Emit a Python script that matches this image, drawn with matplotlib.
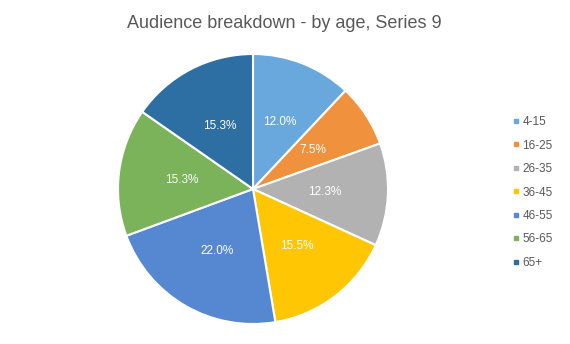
import matplotlib
matplotlib.use("Agg")
import matplotlib.pyplot as plt
from matplotlib.lines import Line2D

plt.rcParams['font.family'] = ['Liberation Sans', 'DejaVu Sans']

categories = ["4-15", "16-25", "26-35", "36-45", "46-55", "56-65", "65+"]
values = [12.0, 7.5, 12.3, 15.5, 22.0, 15.3, 15.3]
colors = ["#69A8DC", "#F0913E", "#B2B2B2", "#FFC703", "#5687D1", "#7AB35A", "#2D6EA3"]
title = "Audience breakdown - by age, Series 9"

W, H = 570, 344
fig = plt.figure(figsize=(W / 100, H / 100), dpi=100)
fig.patch.set_facecolor("white")

cx, cy, r = 253, 189, 135
ax = fig.add_axes([(cx - r) / W, (H - cy - r) / H, 2 * r / W, 2 * r / H])
wedges, texts, autotexts = ax.pie(
    values, colors=colors, startangle=90, counterclock=False,
    autopct=lambda p: f"{p:.1f}%", pctdistance=0.53,
    wedgeprops=dict(edgecolor="white", linewidth=1.5),
    textprops=dict(color="white", fontsize=8.5),
)
for t, v in zip(autotexts, values):
    t.set_text(f"{v:.1f}%")
ax.set_aspect("equal")
ax.set_xlim(-1, 1)
ax.set_ylim(-1, 1)

fig.text(284 / W, 1 - 23 / H, title, ha="center", va="center",
         fontsize=13, color="#595959")

handles = [Line2D([0], [0], marker="s", linestyle="none", markersize=3,
                  markerfacecolor=c, markeredgecolor=c) for c in colors]
leg = fig.legend(handles, categories, loc="center left",
                 bbox_to_anchor=(507 / W, 1 - 192.5 / H), frameon=False,
                 fontsize=8.5, labelspacing=0.97, handlelength=0.5,
                 handletextpad=0.3, borderpad=0)
for t in leg.get_texts():
    t.set_color("#595959")

fig.savefig("out.png", dpi=100, facecolor="white")
